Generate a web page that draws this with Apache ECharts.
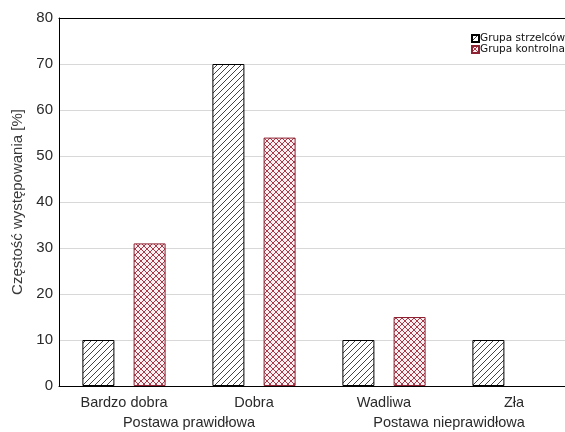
<!DOCTYPE html>
<html>
<head>
<meta charset="utf-8">
<script src="https://cdn.jsdelivr.net/npm/echarts@6/dist/echarts.min.js"></script>
<style>
  html, body { margin: 0; padding: 0; background: #fff; overflow: hidden; }
  /* the plot frame runs on past the right edge of the page */
  #chart { width: 579px; height: 432px; }
</style>
</head>
<body>
<div id="chart"></div>
<script>
// Posture categories and their grouping
const categories = ['Bardzo dobra', 'Dobra', 'Wadliwa', 'Zła'];
const groups = ['Postawa prawidłowa', 'Postawa nieprawidłowa'];
const seriesNames = ['Grupa strzelców', 'Grupa kontrolna'];
// Frequency of occurrence [%]
const shooters = [10, 70, 10, 10];
const control = [31, 54, 15, 0];
const yTicks = [0, 10, 20, 30, 40, 50, 60, 70, 80];

// Hatch fills drawn on small canvases and repeated
function diagonalHatch() {
  const c = document.createElement('canvas');
  c.width = 6; c.height = 6;
  const g = c.getContext('2d');
  g.fillStyle = '#ffffff';
  g.fillRect(0, 0, 6, 6);
  g.strokeStyle = '#444';
  g.lineWidth = 1;
  g.beginPath();
  g.moveTo(-1, 7); g.lineTo(7, -1);
  g.moveTo(-4, 4); g.lineTo(4, -4);
  g.moveTo(2, 10); g.lineTo(10, 2);
  g.stroke();
  return c;
}
function crossHatch() {
  const c = document.createElement('canvas');
  c.width = 6; c.height = 6;
  const g = c.getContext('2d');
  g.fillStyle = '#fcf0f2';
  g.fillRect(0, 0, 6, 6);
  g.strokeStyle = '#a83a4a';
  g.lineWidth = 1;
  g.beginPath();
  g.moveTo(0, 6); g.lineTo(6, 0);
  g.moveTo(0, 0); g.lineTo(6, 6);
  g.stroke();
  return c;
}

// Zero-height bars leave no outline
function toItems(values) {
  return values.map(v => v === 0 ? { value: v, itemStyle: { borderWidth: 0 } } : v);
}

const chart = echarts.init(document.getElementById('chart'), null, { renderer: 'canvas' });
const font = 'Liberation Sans, Arial, sans-serif';

chart.setOption({
  animation: false,
  grid: { left: 59, top: 18, right: 0, bottom: 46, containLabel: false },
  legend: {
    orient: 'vertical',
    left: 471,
    top: 33,
    padding: 0,
    itemWidth: 7,
    itemHeight: 7,
    itemGap: 0,
    icon: 'rect',
    textStyle: { fontFamily: 'DejaVu Sans, sans-serif', fontSize: 10.5, lineHeight: 10.5, color: '#111', padding: [0, 0, 0, -4] },
    data: seriesNames
  },
  xAxis: [
    {
      type: 'category',
      data: categories,
      position: 'bottom',
      axisLine: { lineStyle: { color: '#000', width: 1 } },
      axisTick: { inside: true, length: 5, alignWithLabel: true, lineStyle: { color: '#000' } },
      axisLabel: { fontFamily: font, fontSize: 14.5, color: '#2a2a2a', margin: 9 },
      splitLine: { show: false }
    },
    {
      type: 'category',
      data: groups,
      position: 'bottom',
      offset: 20,
      axisLine: { show: false },
      axisTick: { show: false },
      axisLabel: { fontFamily: font, fontSize: 14.5, color: '#2a2a2a', margin: 9 },
      splitLine: { show: false }
    },
    {
      type: 'category',
      data: categories,
      position: 'top',
      axisLine: { lineStyle: { color: '#000', width: 1 } },
      axisTick: { inside: true, length: 4, alignWithLabel: true, lineStyle: { color: '#000' } },
      axisLabel: { show: false }
    }
  ],
  yAxis: {
    type: 'value',
    min: yTicks[0],
    max: yTicks[yTicks.length - 1],
    interval: 10,
    name: 'Częstość występowania [%]',
    nameLocation: 'middle',
    nameGap: 29,
    nameTextStyle: { fontFamily: font, fontSize: 15, color: '#3a3a3a' },
    axisLine: { show: true, lineStyle: { color: '#000', width: 1 } },
    axisTick: { show: false },
    axisLabel: { fontFamily: font, fontSize: 15, color: '#2a2a2a', margin: 6 },
    splitLine: { show: true, lineStyle: { color: '#d8d8d8', width: 1 } }
  },
  series: [
    {
      name: seriesNames[0],
      type: 'bar',
      xAxisIndex: 0,
      data: toItems(shooters),
      barWidth: 32,
      barGap: '60%',
      itemStyle: {
        color: { image: diagonalHatch(), repeat: 'repeat' },
        borderColor: '#000',
        borderWidth: 1
      }
    },
    {
      name: seriesNames[1],
      type: 'bar',
      xAxisIndex: 0,
      data: toItems(control),
      barWidth: 32,
      barGap: '60%',
      itemStyle: {
        color: { image: crossHatch(), repeat: 'repeat' },
        borderColor: '#8e2232',
        borderWidth: 1
      }
    }
  ]
});
</script>
</body>
</html>
